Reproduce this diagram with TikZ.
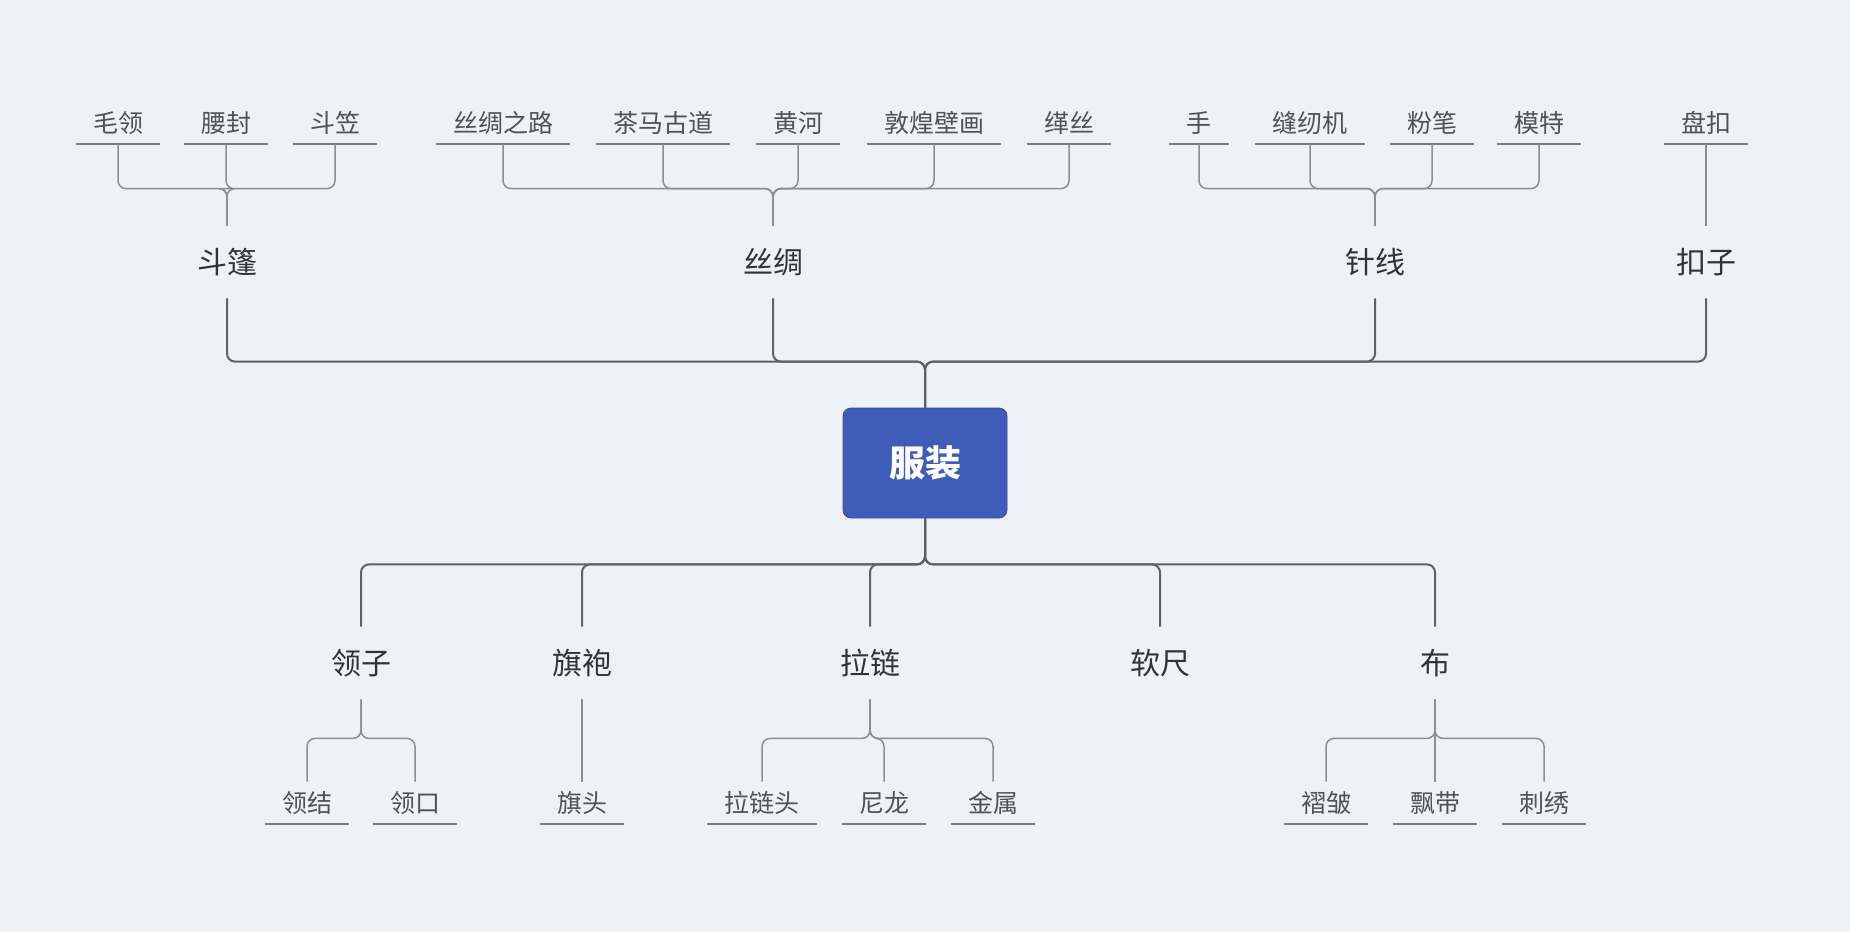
\documentclass[tikz,border=0pt]{standalone}
\usepackage{fontspec}
\usepackage{tikz}
\usetikzlibrary{positioning,calc}
\newfontfamily\cjk{Noto Sans CJK SC}
\definecolor{mbg}{HTML}{EEF1F6}
\definecolor{mblue}{HTML}{3F5CB9}
\definecolor{mline}{HTML}{7A7A7A}
\definecolor{mtext}{HTML}{333333}

\begin{document}
\begin{tikzpicture}[x=0.5pt, y=-0.5pt,
  root/.style={draw=mblue!85!black, fill=mblue, rounded corners=4pt, minimum width=82pt, minimum height=55pt, text=white, font=\cjk\fontsize{18}{20}\selectfont\bfseries},
  topic/.style={minimum height=36pt, inner sep=0pt, text=mtext, font=\cjk\fontsize{15}{17}\selectfont},
  uline/.style={draw=mline, line width=1pt},
  leaf/.style={minimum height=21pt, inner xsep=8.5pt, inner ysep=0pt, text=mtext!85, font=\cjk\fontsize{12.5}{14}\selectfont, append after command={(\tikzlastnode.south west) edge[uline] (\tikzlastnode.south east)}},
  link/.style={draw=black!62, line width=1pt, rounded corners=4pt},
  sublink/.style={draw=mline!85, line width=0.75pt, rounded corners=4pt}]
 \fill[mbg] (0,0) rectangle (1850,932);
 \useasboundingbox (0,0) rectangle (1850,932);
 \node[root] (fz) at (925,463) {服装};
 \foreach \n/\x/\t in {dp/227/斗篷, sc/773/丝绸, zx/1375/针线, kz/1706/扣子} {
  \node[topic] (\n) at (\x,262) {\t};
  \draw[link] (\n.south) |- ([yshift=23pt]fz.north) -- (fz.north);
 }
 \foreach \n/\x/\t in {lz/361/领子, qp/582/旗袍, ll/870/拉链, rc/1160/软尺, bu/1435/布} {
  \node[topic] (\n) at (\x,663) {\t};
  \draw[link] (fz.south) -- ([yshift=-23pt]fz.south) -| (\n.north);
 }
 \foreach \n/\x/\t/\p in {ml/118/毛领/dp, yf/226/腰封/dp, dl/335/斗笠/dp,
   scl/503/丝绸之路/sc, cm/663/茶马古道/sc, hh/798/黄河/sc, dh/934/敦煌壁画/sc, ks/1069/缂丝/sc,
   sh/1199/手/zx, fr/1310/缝纫机/zx, fb/1432/粉笔/zx, mt/1539/模特/zx, pk/1706/盘扣/kz} {
  \node[leaf] (\n) at (\x,123) {\t};
  \draw[sublink] (\n.south) |- ([yshift=18.5pt]\p.north) -- (\p.north);
 }
 \foreach \n/\x/\t/\p in {lj/307/领结/lz, lk/415/领口/lz, qt/582/旗头/qp,
   llt/762/拉链头/ll, nl/884/尼龙/ll, js/993/金属/ll,
   zz/1326/褶皱/bu, pd/1435/飘带/bu, cx/1544/刺绣/bu} {
  \node[leaf] (\n) at (\x,803) {\t};
  \draw[sublink] (\p.south) -- ([yshift=-19.5pt]\p.south) -| (\n.north);
 }
\end{tikzpicture}
\end{document}
